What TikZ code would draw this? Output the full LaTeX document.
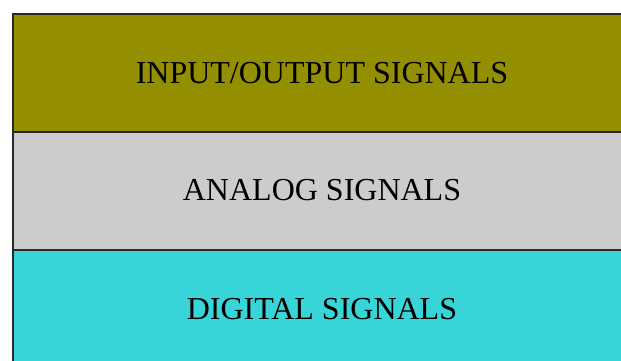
\documentclass[tikz,border=0pt]{standalone}
\usepackage{fontspec}
\setmainfont{Liberation Serif}
\definecolor{olivebox}{RGB}{147,143,0}
\definecolor{graybox}{RGB}{204,204,204}
\definecolor{cyanbox}{RGB}{56,213,216}
\definecolor{edge}{RGB}{40,40,40}
\tikzset{
  layer/.style={draw=edge, line width=2pt, minimum width=621pt, minimum height=118pt,
    anchor=north west, inner sep=0pt, text=black}
}
\begin{document}
\begin{tikzpicture}[x=1pt,y=-1pt]
\useasboundingbox (0,0) rectangle (621,360);
\clip (0,0) rectangle (621,360);
\node[layer, fill=olivebox] (io) at (11.5,12.5) {};
\node[layer, fill=graybox] (analog) at (11.5,130.5) {};
\node[layer, fill=cyanbox] (digital) at (11.5,248.5) {};
\node (t1) at (322,73) {\fontsize{32}{38}\selectfont INPUT/OUTPUT SIGNALS};
\node (t2) at (322,190) {\fontsize{32}{38}\selectfont ANALOG SIGNALS};
\node (t3) at (322,309) {\fontsize{32}{38}\selectfont DIGITAL SIGNALS};
\end{tikzpicture}
\end{document}
